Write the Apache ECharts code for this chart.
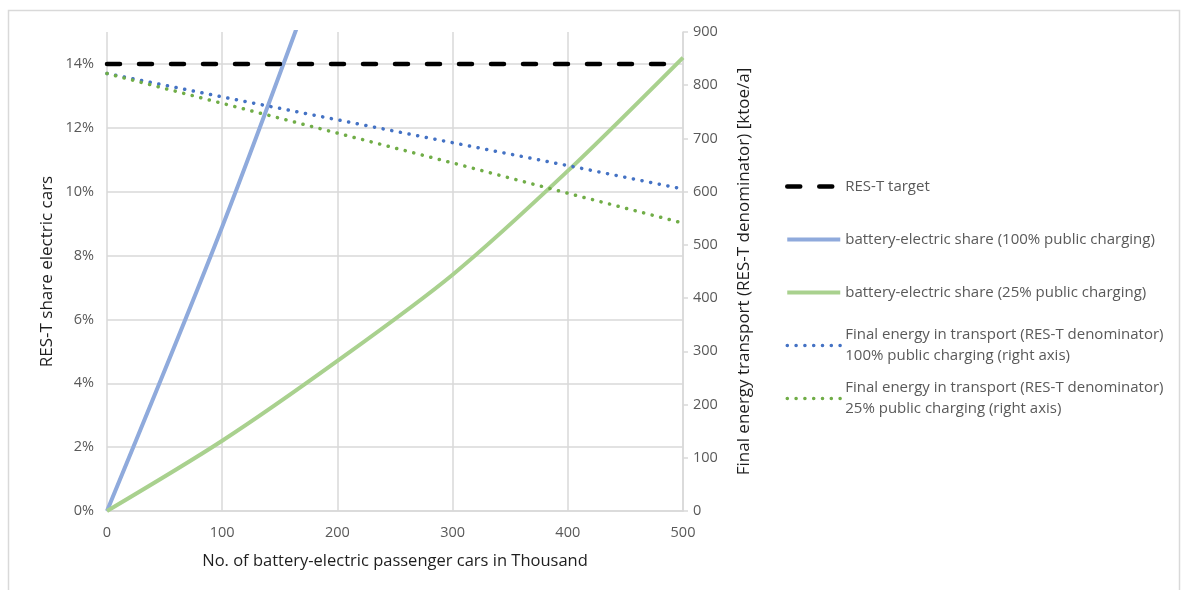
<!DOCTYPE html>
<html>
<head>
<meta charset="utf-8">
<title>RES-T share and battery-electric passenger cars</title>
<script src="https://cdn.jsdelivr.net/npm/echarts@6/dist/echarts.min.js"></script>
<style>
  html, body { margin: 0; padding: 0; background: #ffffff; }
  #chart { width: 1183px; height: 590px; }
</style>
</head>
<body>
<div id="chart"></div>
<script>
// Number of battery-electric passenger cars (thousand)
const carsThousand = [0, 100, 200, 300, 400, 500];

// RES-T target share (left axis)
const targetShare = [0.14, 0.14, 0.14, 0.14, 0.14, 0.14];

// Battery-electric share of RES-T (left axis)
const share100 = [0, 0.089, 0.186];
const share25 = [0, 0.022, 0.047, 0.074, 0.1065, 0.142];

// Final energy in transport, RES-T denominator, ktoe/a (right axis)
const energy100 = [822, 778, 735, 692, 649, 605];
const energy25 = [822, 766, 710, 654, 597, 541];

const seriesNames = [
  'RES-T target',
  'battery-electric share (100% public charging)',
  'battery-electric share (25% public charging)',
  'Final energy in transport (RES-T denominator)\n100% public charging (right axis)',
  'Final energy in transport (RES-T denominator)\n25% public charging (right axis)'
];

const pair = (vals) => vals.map((v, i) => [carsThousand[i], v]);

const FONT = '"Open Sans"';
const TEXT = '#595959';
const TITLE = '#1e1e1e';
const GRID = '#D9D9D9';

const chart = echarts.init(document.getElementById('chart'), null, { renderer: 'canvas' });

const dotted = [0.1, 8.7];

chart.setOption({
  animation: false,
  backgroundColor: '#ffffff',
  textStyle: { fontFamily: FONT },
  graphic: [{
    type: 'rect',
    shape: { x: 8.5, y: 10.5, width: 1171, height: 600 },
    style: { fill: 'none', stroke: GRID, lineWidth: 1.5 },
    silent: true
  }],
  grid: { left: 107, right: 500, top: 32, bottom: 79 },
  legend: {
    orient: 'vertical',
    left: 785,
    top: 155,
    padding: 0,
    itemWidth: 53,
    itemHeight: 12,
    itemGap: -10,
    textStyle: { color: TEXT, fontSize: 15, fontFamily: FONT, lineHeight: 21, padding: [21, 0, 21, 0] },
    itemStyle: { opacity: 0 },
    lineStyle: { width: 'inherit', type: 'inherit', cap: 'inherit', opacity: 1 },
    data: seriesNames.map((n, i) => i < 3 ? { name: n } : { name: n, textStyle: { padding: [21, 0, 0, 0] } })
  },
  xAxis: {
    type: 'value',
    min: 0, max: 500, interval: 100,
    name: 'No. of battery-electric passenger cars in Thousand',
    nameLocation: 'middle',
    nameGap: 42,
    nameTextStyle: { color: TITLE, fontSize: 16.5, fontFamily: FONT },
    axisLine: { show: true, lineStyle: { color: GRID, width: 1.5 } },
    axisTick: { show: false },
    axisLabel: { color: TEXT, fontSize: 14.5, fontFamily: FONT, margin: 14 },
    splitLine: { show: true, lineStyle: { color: GRID, width: 1.5 } }
  },
  yAxis: [{
    type: 'value',
    min: 0, max: 0.15, interval: 0.02,
    name: 'RES-T share electric cars',
    nameLocation: 'middle',
    nameGap: 51,
    nameTextStyle: { color: TITLE, fontSize: 17, fontFamily: FONT },
    axisLine: { show: false },
    axisTick: { show: false },
    axisLabel: {
      color: TEXT, fontSize: 14.5, fontFamily: FONT, margin: 13,
      showMaxLabel: false,
      formatter: (v) => Math.round(v * 100) + '%'
    },
    splitLine: { show: true, showMaxLine: false, lineStyle: { color: GRID, width: 1.5 } }
  }, {
    type: 'value',
    position: 'right',
    min: 0, max: 900, interval: 100,
    name: 'Final energy transport (RES-T denominator) [ktoe/a]',
    nameLocation: 'middle',
    nameGap: 53,
    nameRotate: 90,
    nameTextStyle: { color: TITLE, fontSize: 17, fontFamily: FONT },
    axisLine: { show: true, lineStyle: { color: GRID, width: 1.5 } },
    axisTick: { show: true, length: 5, lineStyle: { color: GRID, width: 1.5 } },
    axisLabel: { color: TEXT, fontSize: 14.5, fontFamily: FONT, margin: 10 },
    splitLine: { show: false }
  }],
  series: [{
    name: seriesNames[0],
    type: 'line',
    data: pair(targetShare),
    symbol: 'none',
    lineStyle: { color: '#000000', width: 4.5, type: [13, 19], cap: 'round' },
    itemStyle: { color: '#000000' },
    z: 5
  }, {
    name: seriesNames[1],
    type: 'line',
    data: pair(share100),
    symbol: 'none',
    smooth: 0.3,
    lineStyle: { color: '#8FAADC', width: 4 },
    itemStyle: { color: '#8FAADC' }
  }, {
    name: seriesNames[2],
    type: 'line',
    data: pair(share25),
    symbol: 'none',
    smooth: 0.3,
    lineStyle: { color: '#A9D18E', width: 4 },
    itemStyle: { color: '#A9D18E' }
  }, {
    name: seriesNames[3],
    type: 'line',
    yAxisIndex: 1,
    data: pair(energy100),
    symbol: 'none',
    lineStyle: { color: '#4472C4', width: 3.5, type: dotted, cap: 'round' },
    itemStyle: { color: '#4472C4' }
  }, {
    name: seriesNames[4],
    type: 'line',
    yAxisIndex: 1,
    data: pair(energy25),
    symbol: 'none',
    lineStyle: { color: '#70AD47', width: 3.5, type: dotted, cap: 'round' },
    itemStyle: { color: '#70AD47' }
  }]
});
</script>
</body>
</html>
